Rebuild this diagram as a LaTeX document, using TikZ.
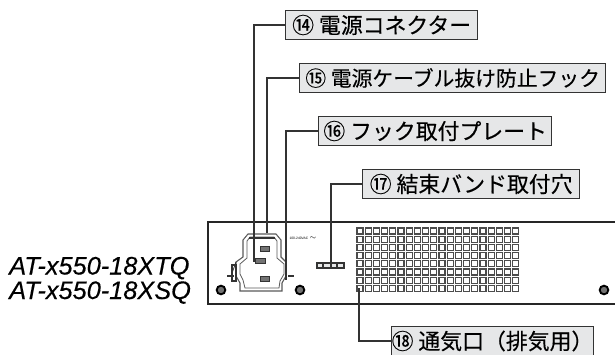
\documentclass[tikz,border=0pt]{standalone}
\usepackage{fontspec}
\setmainfont{Liberation Sans}
\newfontfamily\cjk[RawFeature={embolden=0.3}]{Noto Sans CJK JP}
\newfontfamily\modelfont[RawFeature={embolden=0.25},ItalicFont={Liberation Sans Italic}]{Liberation Sans}
\definecolor{boxgray}{HTML}{E6E7E8}
\definecolor{inkgray}{HTML}{333333}
\begin{document}
\begin{tikzpicture}[x=0.75pt,y=-0.75pt]
	\tikzset{callout/.style = {shape=rectangle, draw=inkgray, line width=1pt, fill=boxgray, inner sep=0pt, anchor=west, minimum height=22pt, font=\cjk\fontsize{16.4}{16.4}\selectfont},
		leader/.style = {draw=inkgray, line width=1.1pt},
		screw/.style = {shape=circle, draw=black, line width=1.4pt, fill=black!55, inner sep=0pt, minimum size=6.5pt},
		model/.style = {anchor=base west, font=\itshape\fontsize{19}{19}\selectfont, inner sep=0pt},
		part/.style = {draw=black!80, line width=0.6pt}}
	\useasboundingbox (0,0) rectangle (615,354);

	% chassis
	\draw[black!85, line width=2.1pt] (615,222)--(208,222)--(208,304)--(615,304);

	% vent grille
	\foreach \col in {0,...,19}
		\foreach \row in {0,...,7}
			\draw[part, line width=0.9pt, draw=black!70] (357+\col*8.2,228+\row*8.2) rectangle ++(6,6);

	% power inlet
	\draw[part, line width=0.8pt, draw=black!65] (240,291)--(240,283)--(236,276)--(236,262)--(243,257)--(243,240)--(248,234)--(276,234)--(281,240)--(281,257)--(286,262)--(286,276)--(282,283)--(282,291)--cycle;
	\draw[part, draw=black!65] (245,288)--(243,280)--(240,274)--(240,264)--(247,258)--(247,241)--(250,237)--(274,237)--(277,241)--(277,258)--(284,264)--(284,274)--(280,281)--(279,288)--cycle;
	\draw[part, fill=black!55] (255,258) rectangle (265,263);
	\draw[part, fill=black!55] (260,246) rectangle (269,251);
	\draw[part, fill=black!55] (260,276) rectangle (269,281);
	\draw[part] (231,276)--(236,262);
	\draw[part, line width=1.2pt] (227,276)--(234,276);
	\draw[part, line width=1.2pt] (288,276)--(294,276);
	\draw[part, line width=0.9pt] (232,265) rectangle (236,281);
	\draw[part, line width=1.6pt] (249,238)--(275,238);

	\node[screw] (screwA) at (221,290) {};
	\node[screw] (screwB) at (300,290) {};
	\node[screw] (screwC) at (604,290) {};

	\node[font=\fontsize{2.5}{3}\selectfont, inner sep=0pt] (rating) at (303,238) {100-240VAC $\sim$};

	% tie slot
	\draw[part, line width=1pt, fill=boxgray] (317,263) rectangle (344,268);
	\foreach \slotx in {323,331,337}
		\draw[part, line width=0.9pt] (\slotx,263)--(\slotx,268);

	% model names
	\node[model] (xtq) at (9,274.5) {\modelfont\itshape AT-x550-18XTQ};
	\node[model] (xsq) at (9,299) {\modelfont\itshape AT-x550-18XSQ};

	% callouts
	\node[callout, minimum width=144pt] (power) at (285,25) {⑭ 電源コネクター};
	\node[callout, minimum width=229.5pt, font=\cjk\fontsize{15.6}{15.6}\selectfont] (hook) at (299,78) {⑮ 電源ケーブル抜け防止フック};
	\node[callout, minimum width=174.75pt] (plate) at (318,131) {⑯ フック取付プレート};
	\node[callout, minimum width=162.75pt] (band) at (362,184) {⑰ 結束バンド取付穴};
	\node[callout, minimum width=148.5pt] (vent) at (391,341) {⑱ 通気口（排気用）};

	\coordinate (powerEnd) at (254,262);
	\coordinate (hookEnd) at (267,233);
	\coordinate (plateEnd) at (286,280);
	\coordinate (bandEnd) at (331,265);
	\coordinate (ventEnd) at (359,288);

	\draw[leader] (power.west) -| (powerEnd);
	\draw[leader] (hook.west) -| (hookEnd);
	\draw[leader] (plate.west) -| (plateEnd);
	\draw[leader] (band.west) -| (bandEnd);
	\draw[leader] (vent.west) -| (ventEnd);
\end{tikzpicture}
\end{document}
